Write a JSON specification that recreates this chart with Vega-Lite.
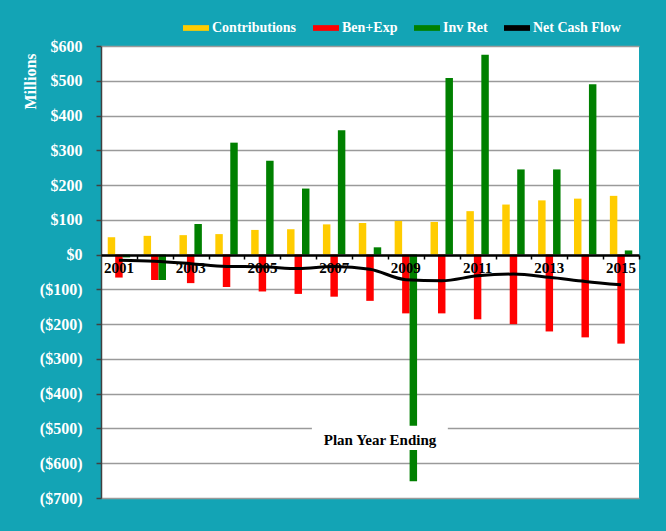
{
  "$schema": "https://vega.github.io/schema/vega-lite/v6.json",
  "width": 538,
  "height": 452,
  "autosize": {"type": "none"},
  "padding": {"left": 101, "top": 46, "right": 27, "bottom": 33},
  "background": "#13a4b5",
  "config": {
    "view": {"fill": "white", "stroke": null},
    "font": "Liberation Serif"
  },
  "data": {
    "values": [
      {"Year": 2001, "Series": "Contributions", "Value": 50},
      {"Year": 2002, "Series": "Contributions", "Value": 54},
      {"Year": 2003, "Series": "Contributions", "Value": 56},
      {"Year": 2004, "Series": "Contributions", "Value": 59},
      {"Year": 2005, "Series": "Contributions", "Value": 71},
      {"Year": 2006, "Series": "Contributions", "Value": 73},
      {"Year": 2007, "Series": "Contributions", "Value": 87},
      {"Year": 2008, "Series": "Contributions", "Value": 91},
      {"Year": 2009, "Series": "Contributions", "Value": 97},
      {"Year": 2010, "Series": "Contributions", "Value": 94},
      {"Year": 2011, "Series": "Contributions", "Value": 125},
      {"Year": 2012, "Series": "Contributions", "Value": 144},
      {"Year": 2013, "Series": "Contributions", "Value": 156},
      {"Year": 2014, "Series": "Contributions", "Value": 161},
      {"Year": 2015, "Series": "Contributions", "Value": 169},
      {"Year": 2001, "Series": "Ben+Exp", "Value": -66},
      {"Year": 2002, "Series": "Ben+Exp", "Value": -73},
      {"Year": 2003, "Series": "Ben+Exp", "Value": -82},
      {"Year": 2004, "Series": "Ben+Exp", "Value": -93},
      {"Year": 2005, "Series": "Ben+Exp", "Value": -106},
      {"Year": 2006, "Series": "Ben+Exp", "Value": -113},
      {"Year": 2007, "Series": "Ben+Exp", "Value": -121},
      {"Year": 2008, "Series": "Ben+Exp", "Value": -133},
      {"Year": 2009, "Series": "Ben+Exp", "Value": -169},
      {"Year": 2010, "Series": "Ben+Exp", "Value": -169},
      {"Year": 2011, "Series": "Ben+Exp", "Value": -186},
      {"Year": 2012, "Series": "Ben+Exp", "Value": -200},
      {"Year": 2013, "Series": "Ben+Exp", "Value": -221},
      {"Year": 2014, "Series": "Ben+Exp", "Value": -238},
      {"Year": 2015, "Series": "Ben+Exp", "Value": -256},
      {"Year": 2001, "Series": "Inv Ret", "Value": -8},
      {"Year": 2002, "Series": "Inv Ret", "Value": -73},
      {"Year": 2003, "Series": "Inv Ret", "Value": 88},
      {"Year": 2004, "Series": "Inv Ret", "Value": 322},
      {"Year": 2005, "Series": "Inv Ret", "Value": 270},
      {"Year": 2006, "Series": "Inv Ret", "Value": 190},
      {"Year": 2007, "Series": "Inv Ret", "Value": 358},
      {"Year": 2008, "Series": "Inv Ret", "Value": 21},
      {"Year": 2009, "Series": "Inv Ret", "Value": -652},
      {"Year": 2010, "Series": "Inv Ret", "Value": 508},
      {"Year": 2011, "Series": "Inv Ret", "Value": 575},
      {"Year": 2012, "Series": "Inv Ret", "Value": 245},
      {"Year": 2013, "Series": "Inv Ret", "Value": 245},
      {"Year": 2014, "Series": "Inv Ret", "Value": 490},
      {"Year": 2015, "Series": "Inv Ret", "Value": 12},
      {"Year": 2001, "Series": "Net Cash Flow", "Value": -16},
      {"Year": 2002, "Series": "Net Cash Flow", "Value": -19},
      {"Year": 2003, "Series": "Net Cash Flow", "Value": -26},
      {"Year": 2004, "Series": "Net Cash Flow", "Value": -34},
      {"Year": 2005, "Series": "Net Cash Flow", "Value": -35},
      {"Year": 2006, "Series": "Net Cash Flow", "Value": -40},
      {"Year": 2007, "Series": "Net Cash Flow", "Value": -34},
      {"Year": 2008, "Series": "Net Cash Flow", "Value": -42},
      {"Year": 2009, "Series": "Net Cash Flow", "Value": -72},
      {"Year": 2010, "Series": "Net Cash Flow", "Value": -75},
      {"Year": 2011, "Series": "Net Cash Flow", "Value": -61},
      {"Year": 2012, "Series": "Net Cash Flow", "Value": -56},
      {"Year": 2013, "Series": "Net Cash Flow", "Value": -65},
      {"Year": 2014, "Series": "Net Cash Flow", "Value": -77},
      {"Year": 2015, "Series": "Net Cash Flow", "Value": -87}
    ]
  },
  "layer": [
    {
      "layer": [
        {
          "transform": [{"filter": "datum.Series !== 'Net Cash Flow'"}],
          "mark": {"type": "bar"},
          "encoding": {
            "x": {
              "field": "Year",
              "type": "ordinal",
              "scale": {"paddingInner": 0, "paddingOuter": 0},
              "axis": {
                "orient": "bottom",
                "offset": -243,
                "values": [2001, 2003, 2005, 2007, 2009, 2011, 2013, 2015],
                "title": null,
                "labelAngle": 0,
                "labelColor": "black",
                "labelFont": "Liberation Serif",
                "labelFontSize": 15,
                "labelFontWeight": "bold",
                "labelPadding": 5,
                "labelOverlap": false,
                "ticks": false,
                "tickSize": 0,
                "domainColor": "black",
                "domainWidth": 2.5,
                "grid": false,
                "zindex": 1
              }
            },
            "xOffset": {
              "field": "Series",
              "type": "nominal",
              "scale": {
                "domain": ["Contributions", "Ben+Exp", "Inv Ret"],
                "paddingInner": 0,
                "paddingOuter": 0.9
              }
            },
            "y": {
              "field": "Value",
              "type": "quantitative",
              "scale": {"domain": [-700, 600], "nice": false},
              "axis": {
                "values": [-700, -600, -500, -400, -300, -200, -100, 0, 100, 200, 300, 400, 500, 600],
                "tickCount": 30,
                "title": "Millions",
                "titleColor": "white",
                "titleFont": "Liberation Serif",
                "titleFontSize": 16,
                "titleFontWeight": "bold",
                "titleAngle": -90,
                "titleX": -71,
                "titleY": 35,
                "titleAlign": "center",
                "titleBaseline": "middle",
                "labelExpr": "datum.value < 0 ? '($' + abs(datum.value) + ')' : '$' + datum.value",
                "labelColor": "white",
                "labelFont": "Liberation Serif",
                "labelFontSize": 16,
                "labelFontWeight": "bold",
                "labelPadding": 14,
                "labelOverlap": false,
                "labelFlush": false,
                "tickSize": 5,
                "tickColor": "#404040",
                "tickWidth": 1.5,
                "domainColor": "#404040",
                "domainWidth": 1.5,
                "grid": true,
                "gridColor": "#9a9a9a",
                "gridWidth": 1.5
              }
            },
            "color": {
              "field": "Series",
              "type": "nominal",
              "scale": {
                "domain": ["Contributions", "Ben+Exp", "Inv Ret", "Net Cash Flow"],
                "range": ["#ffcc00", "#ff0000", "#008000", "#000000"]
              },
              "legend": {
                "orient": "none",
                "legendX": 82,
                "legendY": -31,
                "direction": "horizontal",
                "title": null,
                "padding": 0,
                "labelColor": "white",
                "labelFont": "Liberation Serif",
                "labelFontSize": 14,
                "labelFontWeight": "bold",
                "labelOffset": 3,
                "columnPadding": 16,
                "symbolType": "M-1,-0.22H1V0.22H-1Z",
                "symbolSize": 676,
                "symbolStrokeWidth": 0,
                "symbolOpacity": 1,
                "encode": {
                  "symbols": {"update": {"fill": {"scale": "color", "field": "value"}, "fillOpacity": {"value": 1}}}
                }
              }
            }
          }
        },
        {
          "transform": [{"filter": "datum.Series === 'Net Cash Flow'"}],
          "mark": {"type": "line", "strokeWidth": 3, "interpolate": "monotone"},
          "encoding": {
            "x": {"field": "Year", "type": "ordinal"},
            "y": {
              "field": "Value",
              "type": "quantitative",
              "axis": {
                "values": [-700, -600, -500, -400, -300, -200, -100, 0, 100, 200, 300, 400, 500, 600],
                "tickCount": 30
              }
            },
            "color": {"field": "Series", "type": "nominal"}
          }
        }
      ]
    },
    {
      "data": {"values": [{"label": "Plan Year Ending"}]},
      "layer": [
        {
          "mark": {"type": "rect", "color": "white"},
          "encoding": {
            "x": {
              "datum": 5.88,
              "type": "quantitative",
              "scale": {"domain": [0, 15], "nice": false, "zero": false},
              "axis": {
                "orient": "bottom",
                "offset": -243,
                "values": [1, 2, 3, 4, 5, 6, 7, 8, 9, 10, 11, 12, 13, 14, 15],
                "tickCount": 30,
                "labels": false,
                "domain": false,
                "ticks": true,
                "tickSize": 4,
                "tickColor": "black",
                "tickWidth": 1.5,
                "grid": false,
                "title": null
              }
            },
            "x2": {"datum": 9.67},
            "y": {
              "datum": -492,
              "type": "quantitative",
              "axis": {
                "values": [-700, -600, -500, -400, -300, -200, -100, 0, 100, 200, 300, 400, 500, 600],
                "tickCount": 30
              }
            },
            "y2": {"datum": -562}
          }
        },
        {
          "mark": {
            "type": "text",
            "font": "Liberation Serif",
            "fontSize": 15,
            "fontWeight": "bold",
            "color": "black",
            "align": "center",
            "baseline": "middle"
          },
          "encoding": {
            "x": {"datum": 7.78, "type": "quantitative"},
            "y": {
              "datum": -533,
              "type": "quantitative",
              "axis": {
                "values": [-700, -600, -500, -400, -300, -200, -100, 0, 100, 200, 300, 400, 500, 600],
                "tickCount": 30
              }
            },
            "text": {"field": "label"}
          }
        }
      ]
    }
  ],
  "resolve": {"scale": {"x": "independent"}}
}
